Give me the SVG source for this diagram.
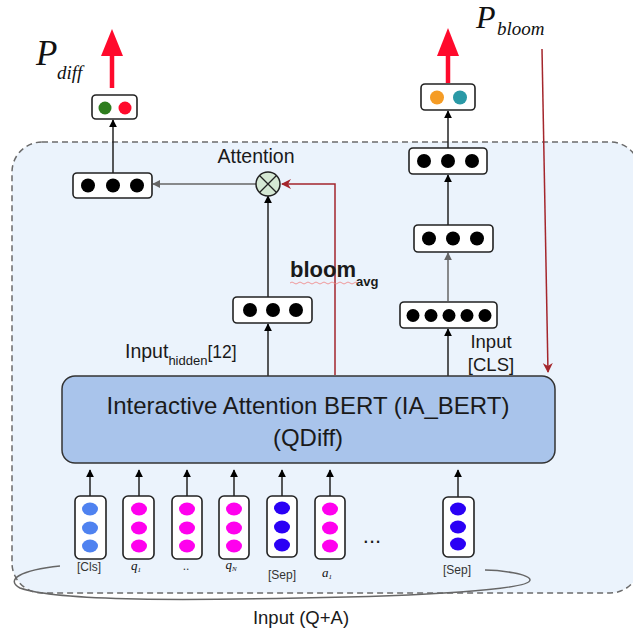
<svg xmlns="http://www.w3.org/2000/svg" width="633" height="635" viewBox="0 0 633 635">
<defs>
<style>
.box{fill:#fff;stroke:#222;stroke-width:1.6}
.dot{fill:#000}
.ln{stroke:#222;stroke-width:1.5;fill:none}
.gl{stroke:#666;stroke-width:1.5;fill:none}
.rl{stroke:#a4262c;stroke-width:1.5;fill:none}
.sans{font-family:"Liberation Sans",Arial,sans-serif;fill:#1a1a1a}
.serif{font-family:"Liberation Serif","Times New Roman",serif;font-style:italic;fill:#111}
.small{font-family:"Liberation Sans",Arial,sans-serif;font-size:12px;fill:#333}
</style>
<marker id="ab" viewBox="0 0 10 10" refX="9" refY="5" markerWidth="8" markerHeight="8" orient="auto" markerUnits="userSpaceOnUse"><path d="M0,0 L10,5 L0,10 z" fill="#000"/></marker>
<marker id="ag" viewBox="0 0 10 10" refX="9" refY="5" markerWidth="8" markerHeight="8" orient="auto" markerUnits="userSpaceOnUse"><path d="M0,0 L10,5 L0,10 z" fill="#666"/></marker>
<marker id="ar" viewBox="0 0 10 10" refX="9" refY="5" markerWidth="10" markerHeight="10" orient="auto" markerUnits="userSpaceOnUse"><path d="M0,0 L10,5 L0,10 L3,5 z" fill="#a4262c"/></marker>
</defs>

<g id="container">
<rect x="12" y="142" width="628" height="451" rx="30" fill="#ebf3fc" stroke="#6b6b6b" stroke-width="1.5" stroke-dasharray="6 4"/>
</g>

<g id="connectors">
<line class="ln" x1="113" y1="173" x2="113" y2="120" marker-end="url(#ab)"/>
<line class="gl" x1="256" y1="184" x2="153" y2="184" marker-end="url(#ag)"/>
<line class="ln" x1="268" y1="297" x2="268" y2="196" marker-end="url(#ab)"/>
<line class="ln" x1="268" y1="377" x2="268" y2="324" marker-end="url(#ab)"/>
<path class="rl" d="M335,375 L335,184 L282,184" marker-end="url(#ar)"/>
<line x1="112" y1="88" x2="112" y2="52" stroke="#ff0a2c" stroke-width="4.5"/>
<path d="M101,56 L112,29 L123,56 z" fill="#ff0a2c"/>
<line x1="448" y1="83" x2="448" y2="52" stroke="#ff0a2c" stroke-width="4.5"/>
<path d="M437,56 L448,28 L459,56 z" fill="#ff0a2c"/>
<line class="ln" x1="448" y1="148" x2="448" y2="111" marker-end="url(#ab)"/>
<line class="ln" x1="448" y1="225" x2="448" y2="175" marker-end="url(#ab)"/>
<line class="gl" x1="448" y1="301" x2="448" y2="253" marker-end="url(#ag)"/>
<line class="ln" x1="448" y1="377" x2="448" y2="329" marker-end="url(#ab)"/>
<line class="rl" x1="542" y1="49" x2="548" y2="372" marker-end="url(#ar)"/>
<line class="ln" x1="90" y1="496" x2="90" y2="470" marker-end="url(#ab)"/>
<line class="ln" x1="139" y1="496" x2="139" y2="470" marker-end="url(#ab)"/>
<line class="ln" x1="187" y1="496" x2="187" y2="470" marker-end="url(#ab)"/>
<line class="ln" x1="234" y1="496" x2="234" y2="470" marker-end="url(#ab)"/>
<line class="ln" x1="282" y1="496" x2="282" y2="470" marker-end="url(#ab)"/>
<line class="ln" x1="330" y1="496" x2="330" y2="470" marker-end="url(#ab)"/>
<line class="ln" x1="458" y1="497" x2="458" y2="470" marker-end="url(#ab)"/>
<path d="M60,566 C20,570 5,580 20,588 C60,602 200,600 300,598 C420,596 530,590 530,580 C530,574 500,570 485,570" fill="none" stroke="#666" stroke-width="1.5"/>
</g>

<g id="p_diff_out">
<rect class="box" x="92" y="95" width="45" height="24" rx="4"/>
<circle cx="105" cy="108" r="6.5" fill="#2e7d1e"/>
<circle cx="125" cy="108" r="6.5" fill="#ff0a2c"/>
</g>
<g id="p_diff_label">
<text class="serif" x="36" y="65" font-size="35">P</text>
<text class="serif" x="57" y="79" font-size="19">diff</text>
</g>

<g id="diff_hidden">
<rect class="box" x="73" y="173" width="79" height="25" rx="4"/>
<circle class="dot" cx="88" cy="185.5" r="7"/>
<circle class="dot" cx="113" cy="185.5" r="7"/>
<circle class="dot" cx="137" cy="185.5" r="7"/>
</g>

<g id="attention">
<text class="sans" x="256" y="163" font-size="19.5" text-anchor="middle">Attention</text>
<circle cx="268" cy="184" r="12" fill="#d5e8d4" stroke="#222" stroke-width="1.5"/>
<path d="M259.5,175.5 L276.5,192.5 M276.5,175.5 L259.5,192.5" stroke="#222" stroke-width="1.3"/>
</g>

<g id="hidden_box">
<rect class="box" x="233" y="297" width="79" height="26" rx="4"/>
<circle class="dot" cx="250" cy="310" r="7"/>
<circle class="dot" cx="273" cy="310" r="7"/>
<circle class="dot" cx="296" cy="310" r="7"/>
<text class="sans" x="125" y="358" font-size="19.5">Input<tspan font-size="13" dy="7">hidden</tspan><tspan font-size="17.5" dy="-7">[12]</tspan></text>
</g>

<g id="bloom_avg">
<text class="sans" x="290" y="277" font-size="22" font-weight="bold" fill="#111">bloom<tspan font-size="13" dy="9">avg</tspan></text>
<path d="M290,283 q2,-2 4,0 t4,0 t4,0 t4,0 t4,0 t4,0 t4,0 t4,0 t4,0 t4,0 t4,0 t4,0 t4,0 t4,0 t4,0 t4,0 t4,0" fill="none" stroke="#f08080" stroke-width="0.8"/>
</g>

<g id="p_bloom_out">
<rect class="box" x="421" y="84" width="54" height="26" rx="4"/>
<circle cx="437" cy="97.5" r="7" fill="#f59c25"/>
<circle cx="460" cy="97.5" r="7" fill="#2a99a6"/>
</g>
<g id="p_bloom_label">
<text class="serif" x="476" y="28" font-size="32">P</text>
<text class="serif" x="497" y="35" font-size="19">bloom</text>
</g>

<g id="bloom_hidden1">
<rect class="box" x="409" y="148" width="78" height="26" rx="4"/>
<circle class="dot" cx="424" cy="161" r="7"/>
<circle class="dot" cx="448" cy="161" r="7"/>
<circle class="dot" cx="472" cy="161" r="7"/>
</g>
<g id="bloom_hidden2">
<rect class="box" x="414" y="225" width="79" height="27" rx="4"/>
<circle class="dot" cx="429" cy="238.5" r="7"/>
<circle class="dot" cx="453" cy="238.5" r="7"/>
<circle class="dot" cx="477" cy="238.5" r="7"/>
</g>
<g id="cls_box">
<rect class="box" x="400" y="302" width="97" height="26" rx="4"/>
<circle class="dot" cx="413" cy="315.5" r="6.5"/>
<circle class="dot" cx="431" cy="315.5" r="6.5"/>
<circle class="dot" cx="449" cy="315.5" r="6.5"/>
<circle class="dot" cx="467" cy="315.5" r="6.5"/>
<circle class="dot" cx="485" cy="315.5" r="6.5"/>
<text class="sans" x="491" y="348" font-size="18.5" text-anchor="middle">Input</text>
<text class="sans" x="491" y="371" font-size="18.5" text-anchor="middle">[CLS]</text>
</g>

<g id="bert">
<rect x="62" y="376" width="493" height="87" rx="13" fill="#a9c4eb" stroke="#333" stroke-width="1.5"/>
<text class="sans" x="308" y="414" font-size="24" text-anchor="middle">Interactive Attention BERT (IA_BERT)</text>
<text class="sans" x="308" y="446" font-size="24" text-anchor="middle">(QDiff)</text>
</g>

<g id="tok_cls">
<rect class="box" x="75" y="496" width="31" height="63" rx="5"/>
<ellipse cx="90" cy="509" rx="8" ry="6.5" fill="#4f82f0"/>
<ellipse cx="90" cy="528" rx="8" ry="6.5" fill="#4f82f0"/>
<ellipse cx="90" cy="546" rx="8" ry="6.5" fill="#4f82f0"/>
<text class="small" x="89" y="571" text-anchor="middle">[Cls]</text>
</g>
<g id="tok_q1">
<rect class="box" x="123" y="496" width="31" height="63" rx="5"/>
<ellipse cx="139" cy="509" rx="8" ry="6.5" fill="#ff00ee"/>
<ellipse cx="139" cy="528" rx="8" ry="6.5" fill="#ff00ee"/>
<ellipse cx="139" cy="546" rx="8" ry="6.5" fill="#ff00ee"/>
<text class="serif" x="136" y="570" font-size="13" text-anchor="middle">q<tspan font-size="7" dy="2">1</tspan></text>
</g>
<g id="tok_qdots">
<rect class="box" x="172" y="496" width="30" height="63" rx="5"/>
<ellipse cx="187" cy="509" rx="8" ry="6.5" fill="#ff00ee"/>
<ellipse cx="187" cy="528" rx="8" ry="6.5" fill="#ff00ee"/>
<ellipse cx="187" cy="546" rx="8" ry="6.5" fill="#ff00ee"/>
<text class="small" x="186" y="570" text-anchor="middle">..</text>
</g>
<g id="tok_qn">
<rect class="box" x="219" y="496" width="30" height="63" rx="5"/>
<ellipse cx="234" cy="509" rx="8" ry="6.5" fill="#ff00ee"/>
<ellipse cx="234" cy="528" rx="8" ry="6.5" fill="#ff00ee"/>
<ellipse cx="234" cy="546" rx="8" ry="6.5" fill="#ff00ee"/>
<text class="serif" x="231" y="569" font-size="13" text-anchor="middle">q<tspan font-size="7" dy="2">N</tspan></text>
</g>
<g id="tok_sep1">
<rect class="box" x="267" y="496" width="30" height="61" rx="5"/>
<ellipse cx="282" cy="508" rx="8" ry="6.5" fill="#2a00f5"/>
<ellipse cx="282" cy="527" rx="8" ry="6.5" fill="#2a00f5"/>
<ellipse cx="282" cy="545" rx="8" ry="6.5" fill="#2a00f5"/>
<text class="small" x="282" y="579" text-anchor="middle">[Sep]</text>
</g>
<g id="tok_a1">
<rect class="box" x="315" y="496" width="30" height="63" rx="5"/>
<ellipse cx="330" cy="509" rx="8" ry="6.5" fill="#ff00ee"/>
<ellipse cx="330" cy="528" rx="8" ry="6.5" fill="#ff00ee"/>
<ellipse cx="330" cy="546" rx="8" ry="6.5" fill="#ff00ee"/>
<text class="serif" x="327" y="577" font-size="13" text-anchor="middle">a<tspan font-size="7" dy="2">1</tspan></text>
</g>
<g id="ellipsis">
<text class="sans" x="372" y="543" font-size="22" text-anchor="middle">...</text>
</g>
<g id="tok_sep2">
<rect class="box" x="443" y="497" width="31" height="60" rx="5"/>
<ellipse cx="458" cy="509" rx="8" ry="6.5" fill="#2a00f5"/>
<ellipse cx="458" cy="527" rx="8" ry="6.5" fill="#2a00f5"/>
<ellipse cx="458" cy="544" rx="8" ry="6.5" fill="#2a00f5"/>
<text class="small" x="457" y="574" text-anchor="middle">[Sep]</text>
</g>

<g id="input_label">
<text class="sans" x="301" y="624" font-size="18.5" text-anchor="middle">Input (Q+A)</text>
</g>
</svg>
